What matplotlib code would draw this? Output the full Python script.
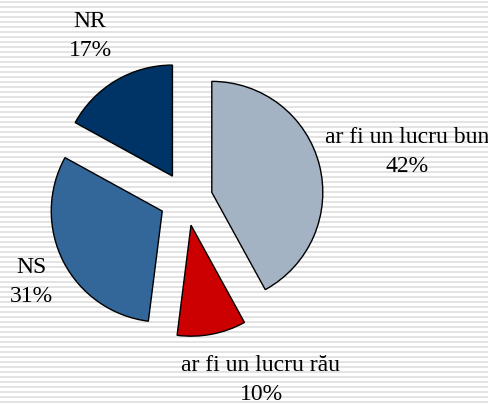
import matplotlib
matplotlib.use("Agg")
import matplotlib.pyplot as plt
from matplotlib.lines import Line2D

labels = ["ar fi un lucru bun", "ar fi un lucru rău", "NS", "NR"]
values = [42, 10, 31, 17]
colors = ["#A3B3C4", "#CC0000", "#336699", "#003366"]

W, H = 489, 405
fig = plt.figure(figsize=(W / 100, H / 100), dpi=100)
fig.patch.set_facecolor("white")

# striped background
for py in range(2, H, 5):
    fig.add_artist(Line2D([0, 1], [1 - py / H, 1 - py / H], transform=fig.transFigure,
                          color="#E3E3E3", lw=1.4, zorder=0))

ax = fig.add_axes([0, 0, 1, 1])
ax.set_facecolor("none")
cx, cy, R = 186, 199, 111

explode = [0.24] * len(values)
wedges, _ = ax.pie(values, colors=colors, startangle=90, counterclock=False,
                   explode=explode, radius=1.0,
                   wedgeprops=dict(edgecolor="black", linewidth=1.0))
ax.set_xlim(-cx / R, (W - cx) / R)
ax.set_ylim(-(H - cy) / R, cy / R)
ax.set_aspect("equal")
ax.axis("off")

label_pos = {
    "ar fi un lucru bun": (407, 152),
    "ar fi un lucru rău": (261, 380),
    "NS": (31, 282),
    "NR": (90, 36),
}
for lab, v in zip(labels, values):
    px, py = label_pos[lab]
    ax.text((px - cx) / R, (cy - py) / R, f"{lab}\n{v}%", ha="center", va="center",
            fontsize=17, family="Liberation Serif", linespacing=1.55, color="black")

fig.savefig("out.png", dpi=100, facecolor="white")
